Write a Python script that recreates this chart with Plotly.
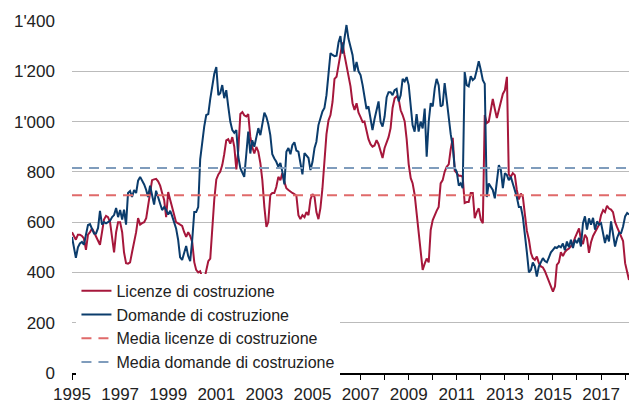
import pandas as pd
import plotly.graph_objects as go

# Monthly values, Jan 1995 .. Mar 2018
licenze_1995_1999 = [
    560, 545, 530, 550, 550, 545, 535, 490, 550, 560, 575, 560,
    545, 530, 510, 560, 610, 625, 620, 600, 540, 480, 560, 600,
    600, 560, 480, 437, 435, 440, 480, 520, 560, 616, 590, 596,
    600, 616, 660, 716, 767, 770, 772, 762, 745, 716, 688, 620,
    720, 688, 660, 620, 600, 595, 590, 585, 560, 541, 560, 545,
]
licenze_2000_2004 = [
    521, 441, 410, 400, 405, 380, 370, 410, 445, 455, 600, 690,
    770, 790, 800, 827, 870, 925, 930, 912, 938, 900, 810, 886,
    1030, 1038, 1025, 1020, 1030, 940, 899, 873, 899, 880, 835, 767,
    660, 581, 600, 708, 716, 716, 740, 780, 767, 795, 760, 735,
    728, 720, 716, 712, 705, 628, 612, 628, 620, 640, 628, 690,
]
licenze_2005_2009 = [
    712, 700, 640, 612, 656, 735, 850, 950, 1005, 1026, 1078, 1170,
    1178, 1225, 1280, 1315, 1265, 1225, 1190, 1140, 1073, 1046, 1073, 1035,
    1018, 998, 1000, 960, 930, 910, 900, 905, 926, 910, 880, 855,
    895, 914, 938, 974, 1054, 1093, 1100, 1090, 1045, 1026, 1000, 930,
    830, 775, 755, 710, 640, 570, 500, 410, 435, 455, 440, 569,
]
licenze_2010_2014 = [
    608, 630, 645, 660, 754, 767, 800, 820, 830, 890, 935, 805,
    795, 785, 785, 780, 676, 680, 680, 716, 716, 616, 640, 655,
    610, 596, 1026, 994, 1000, 1040, 1090, 1050, 1014, 1046, 1086, 1110,
    1125, 1178, 790, 780, 795, 787, 728, 690, 714, 700, 630, 565,
    530, 477, 457, 450, 463, 437, 424, 420, 405, 385, 360, 345,
]
licenze_2015_2018 = [
    324, 345, 430, 440, 480, 465, 481, 490, 495, 505, 515, 537,
    557, 575, 530, 513, 550, 537, 478, 520, 545, 561, 577, 590,
    628, 648, 640, 665, 654, 650, 640, 601, 580, 560, 545, 525,
    437, 400, 370,
]

domande_1995_1999 = [
    541, 490, 458, 500, 515, 521, 510, 550, 589, 592, 569, 555,
    555, 577, 645, 590, 600, 595, 600, 605, 620, 628, 656, 620,
    648, 610, 650, 590, 716, 724, 700, 728, 716, 765, 780, 765,
    750, 728, 700, 745, 710, 670, 725, 700, 668, 648, 660, 648,
    630, 645, 625, 600, 575, 530, 460, 450, 475, 505, 465, 445,
]
domande_2000_2004 = [
    529, 640, 640, 660, 850, 926, 980, 1026, 1030, 1090, 1140, 1190,
    1217, 1105, 1113, 1145, 1093, 1125, 1060, 1000, 966, 955, 966, 860,
    815, 795, 780, 870, 960, 873, 926, 900, 945, 974, 946, 993,
    1035, 1018, 990, 946, 870, 853, 840, 820, 835, 800, 750, 880,
    895, 870, 906, 918, 885, 880, 840, 790, 875, 865, 855, 807,
]
domande_2005_2009 = [
    840, 895, 920, 986, 1014, 1040, 1054, 1105, 1190, 1272, 1265, 1260,
    1262, 1316, 1340, 1270, 1330, 1384, 1330, 1300, 1265, 1200, 1237, 1200,
    1185, 1145, 1093, 1050, 1060, 1010, 966, 1010, 1040, 1080, 998, 980,
    1020, 1097, 1117, 1117, 1105, 1125, 1130, 1080, 1105, 1170, 1160, 1177,
    1145, 1058, 986, 960, 1030, 960, 1000, 973, 1052, 860, 1000, 1073,
]
domande_2010_2014 = [
    1060, 1133, 1170, 1145, 1060, 1066, 1153, 1086, 1006, 950, 900, 815,
    800, 745, 754, 735, 1197, 1145, 1140, 1180, 1165, 1172, 1205, 1240,
    1205, 1165, 1150, 700, 754, 740, 728, 695, 760, 827, 807, 735,
    795, 787, 767, 780, 754, 728, 700, 660, 660, 620, 560, 480,
    400, 410, 440, 424, 384, 424, 440, 457, 445, 440, 460, 480,
]
domande_2015_2018 = [
    490, 500, 497, 505, 500, 515, 488, 523, 500, 530, 497, 530,
    517, 537, 503, 596, 623, 570, 615, 590, 617, 570, 603, 590,
    596, 560, 517, 550, 523, 603, 550, 503, 537, 557, 557, 583,
    623, 636, 630,
]

media_licenze = 707
media_domande = 815

series_names = [
    "Licenze di costruzione",
    "Domande di costruzione",
    "Media licenze di costruzione",
    "Media domande di costruzione",
]
y_ticks = [0, 200, 400, 600, 800, 1000, 1200, 1400]

licenze = (licenze_1995_1999 + licenze_2000_2004 + licenze_2005_2009
           + licenze_2010_2014 + licenze_2015_2018)
domande = (domande_1995_1999 + domande_2000_2004 + domande_2005_2009
           + domande_2010_2014 + domande_2015_2018)
dates = pd.date_range("1995-01-01", periods=len(licenze), freq="MS")
x_start, x_end = "1995-01-01", "2018-03-01"

RED = "#A6173B"
BLUE = "#0B3C6C"
RED_D = "#E06A6A"
BLUE_D = "#7F9CBC"

fig = go.Figure()
fig.add_trace(go.Scatter(x=dates, y=licenze, mode="lines", name=series_names[0],
                         line=dict(color=RED, width=2)))
fig.add_trace(go.Scatter(x=dates, y=domande, mode="lines", name=series_names[1],
                         line=dict(color=BLUE, width=2)))
fig.add_trace(go.Scatter(x=[x_start, x_end], y=[media_licenze, media_licenze], mode="lines",
                         name=series_names[2], line=dict(color=RED_D, width=2, dash="10px,7px")))
fig.add_trace(go.Scatter(x=[x_start, x_end], y=[media_domande, media_domande], mode="lines",
                         name=series_names[3], line=dict(color=BLUE_D, width=2, dash="10px,7px")))

fig.update_layout(
    width=629, height=403,
    margin=dict(l=72, r=0, t=21, b=30),
    paper_bgcolor="white", plot_bgcolor="white",
    font=dict(family="Liberation Sans, Arial, sans-serif", color="#222222", size=16),
    separators=".'",
    showlegend=True,
    legend=dict(x=0.008, y=0.282, xanchor="left", yanchor="top",
                bgcolor="white", borderwidth=0, font=dict(size=16),
                tracegroupgap=0, itemwidth=30),
)
fig.update_xaxes(
    type="date", range=[x_start, x_end],
    tick0="1995-01-01", dtick="M24", tickformat="%Y",
    ticks="outside", ticklen=5, tickcolor="black", tickwidth=1,
    showline=True, linecolor="black", linewidth=1.5,
    showgrid=False, zeroline=False,
    tickfont=dict(size=17, color="#222222"),
    minor=dict(dtick="M12", tick0="1995-01-01", ticks="outside", ticklen=5,
               tickcolor="black", showgrid=False),
)
fig.update_yaxes(
    range=[0, 1400], tickvals=y_ticks, tickformat=",",
    showgrid=True, gridcolor="#BBBBBB", gridwidth=1,
    zeroline=False, showline=False, ticks="",
    ticklabelstandoff=16,
    tickfont=dict(size=17, color="#222222"),
)

fig.write_html("out.html", config={"displayModeBar": False},
               post_script="document.body.style.margin='0';")
